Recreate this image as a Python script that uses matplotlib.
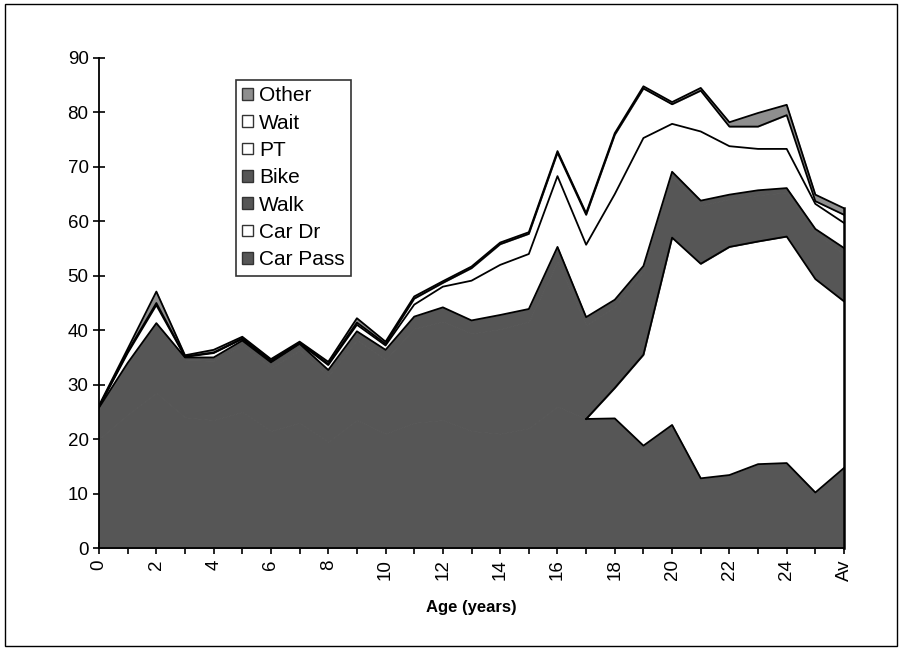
import matplotlib
matplotlib.use("Agg")
import matplotlib.pyplot as plt
import numpy as np
from matplotlib.patches import Patch, Rectangle

plt.rcParams['font.family'] = ['Liberation Sans', 'DejaVu Sans']

# categorias (idade em anos + média)
ages = ["0", "1", "2", "3", "4", "5", "6", "7", "8", "9", "10", "11", "12", "13",
        "14", "15", "16", "17", "18", "19", "20", "21", "22", "23", "24", "25", "Av"]

# séries empilhadas, de baixo para cima
car_pass = [20.0, 24.5, 28.5, 24.0, 23.5, 25.0, 21.5, 23.0, 19.5, 23.5, 21.0, 23.0, 23.5, 21.5,
            21.0, 22.0, 26.0, 23.7, 23.8, 18.8, 22.6, 12.8, 13.4, 15.4, 15.6, 10.2, 14.7]
car_dr = [0, 0, 0, 0, 0, 0, 0, 0, 0, 0, 0, 0, 0, 0,
          0, 0, 0, 0, 5.6, 16.7, 34.4, 39.4, 41.9, 40.9, 41.6, 39.2, 30.6]
walk = [5.5, 9.2, 12.4, 10.5, 10.9, 12.2, 11.6, 13.3, 12.1, 14.7, 13.6, 17.3, 18.1, 17.9,
        19.2, 19.6, 26.6, 17.2, 14.9, 15.3, 11.0, 10.7, 8.8, 8.5, 8.1, 8.6, 8.6]
bike = [0.3, 0.3, 0.4, 0.5, 0.6, 0.9, 1.0, 1.2, 1.1, 1.6, 1.8, 2.2, 2.6, 2.4,
        2.6, 2.3, 2.7, 1.5, 1.3, 1.0, 1.1, 0.9, 0.8, 0.9, 0.8, 0.6, 1.2]
pt = [0.1, 1.8, 3.3, 0.1, 0.8, 0.3, 0.2, 0.1, 0.9, 1.2, 0.8, 2.2, 3.8, 7.3,
      9.2, 10.1, 13.0, 13.3, 19.4, 23.5, 8.8, 12.7, 8.9, 7.6, 7.2, 4.6, 4.6]
wait = [0.1, 0.3, 0.4, 0.1, 0.1, 0.1, 0.1, 0.1, 0.2, 0.4, 0.3, 1.1, 0.7, 2.3,
        3.8, 3.7, 4.3, 5.5, 10.9, 9.1, 3.6, 7.5, 3.6, 4.1, 6.2, 0.5, 1.5]
other = [0.2, 0.5, 2.1, 0.2, 0.5, 0.3, 0.3, 0.2, 0.4, 0.8, 0.4, 0.4, 0.3, 0.3,
         0.3, 0.3, 0.3, 0.3, 0.3, 0.4, 0.4, 0.5, 0.8, 2.5, 1.9, 1.2, 1.2]

labels = ["Car Pass", "Car Dr", "Walk", "Bike", "PT", "Wait", "Other"]
dark = "#565656"
mid = "#8e8e8e"
colors = [dark, "white", dark, dark, "white", "white", mid]

layers = np.vstack([car_pass, car_dr, walk, bike, pt, wait, other])
tops = np.cumsum(layers, axis=0)
bottoms = np.vstack([np.zeros(len(ages)), tops[:-1]])
x = np.arange(len(ages))

fig = plt.figure(figsize=(9.02, 6.5), dpi=100)
ax = fig.add_axes([0.1098, 0.1569, 0.8259, 0.7539])

# áreas brancas sem borda, cinzas com borda da mesma cor (evita emendas)
for i in range(len(labels)):
    if colors[i] == "white":
        ax.fill_between(x, bottoms[i], tops[i], facecolor="white", linewidth=0, zorder=1)
    else:
        ax.fill_between(x, bottoms[i], tops[i], facecolor=colors[i],
                        edgecolor=colors[i], linewidth=0.6, zorder=2)

# contornos (só onde aparecem no original)
lw = 1.3
first = max(int(np.argmax(np.array(car_dr) > 0)) - 1, 0)
ax.plot(x[first:], tops[0][first:], color="black", lw=lw, zorder=3)
ax.plot(x[first:], tops[1][first:], color="black", lw=lw, zorder=3)
for k in [3, 4, 5, 6]:
    ax.plot(x, tops[k], color="black", lw=lw, zorder=3)
ax.plot([x[-1], x[-1]], [0, tops[6][-1]], color="black", lw=1.8, zorder=3, clip_on=False)

ax.set_xlim(0, len(ages) - 1)
ax.set_ylim(0, 90)
ax.set_yticks(np.arange(0, 91, 10))
ax.set_xticks(x)
ax.set_xticklabels([a if i % 2 == 0 else "" for i, a in enumerate(ages)], rotation=90)
ax.tick_params(axis="both", direction="inout", length=8, width=1.2, labelsize=13.5, colors="black")
ax.tick_params(axis="x", pad=4)

for s in ["top", "right"]:
    ax.spines[s].set_visible(False)
for s in ["left", "bottom"]:
    ax.spines[s].set_linewidth(1.3)
    ax.spines[s].set_zorder(4)

ax.set_xlabel("Age (years)", fontsize=12, fontweight="bold", labelpad=14)

handles = [Patch(facecolor=colors[i], edgecolor="#333333", lw=1) for i in range(len(labels))][::-1]
leg = ax.legend(handles, labels[::-1], loc="upper left", bbox_to_anchor=(0.184, 0.955),
                borderaxespad=0, fontsize=15, frameon=True, fancybox=False,
                handlelength=0.5, handleheight=0.5, handletextpad=0.3,
                labelspacing=0.4, borderpad=0.3)
leg.get_frame().set_edgecolor("black")
leg.get_frame().set_linewidth(1.2)

fig.patches.append(Rectangle((0.005, 0.006), 0.99, 0.988, transform=fig.transFigure,
                             fill=False, edgecolor="black", lw=1))

plt.savefig("out.png", dpi=100)
plt.close()
